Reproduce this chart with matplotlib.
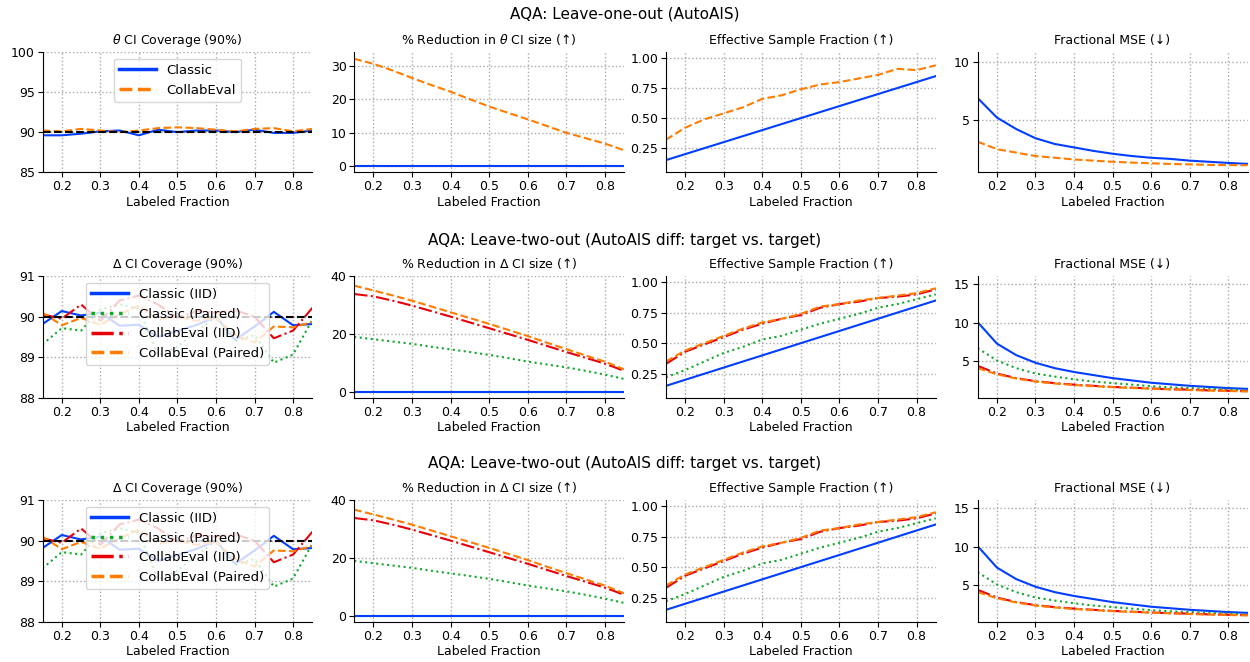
import numpy as np
import matplotlib.pyplot as plt

# ---------------------------------------------------------------------------
# Data: labeled fraction sweep
# ---------------------------------------------------------------------------
frac = [0.15, 0.20, 0.25, 0.30, 0.35, 0.40, 0.45, 0.50,
        0.55, 0.60, 0.65, 0.70, 0.75, 0.80, 0.85]

# Leave-one-out (AutoAIS)
loo_cov_classic = [89.6, 89.6, 89.8, 90.1, 90.2, 89.6, 90.3, 90.0,
                   90.2, 90.2, 90.0, 90.3, 89.9, 89.9, 90.2]
loo_cov_collab = [90.2, 90.1, 90.4, 90.2, 90.0, 90.2, 90.5, 90.6,
                  90.5, 90.3, 90.1, 90.4, 90.5, 90.1, 90.4]
loo_red_classic = [0.0] * 15
loo_red_collab = [32.0, 30.5, 28.5, 26.3, 24.2, 22.2, 20.0, 17.8,
                  15.9, 14.0, 12.0, 10.0, 8.4, 6.8, 4.8]
loo_esf_classic = [0.15, 0.20, 0.25, 0.30, 0.35, 0.40, 0.45, 0.50,
                   0.55, 0.60, 0.65, 0.70, 0.75, 0.80, 0.85]
loo_esf_collab = [0.32, 0.42, 0.49, 0.54, 0.59, 0.66, 0.69, 0.74,
                  0.78, 0.80, 0.83, 0.86, 0.91, 0.90, 0.94]
loo_mse_classic = [6.9, 5.2, 4.2, 3.4, 2.9, 2.6, 2.3, 2.05,
                   1.85, 1.7, 1.6, 1.45, 1.35, 1.25, 1.17]
loo_mse_collab = [3.1, 2.45, 2.15, 1.85, 1.7, 1.55, 1.45, 1.35,
                  1.28, 1.22, 1.16, 1.12, 1.08, 1.06, 1.05]

# Leave-two-out (AutoAIS diff)
lto_cov_classic_iid = [89.82, 90.14, 90.03, 90.10, 89.78, 89.80, 89.50, 89.65,
                       89.80, 90.00, 89.43, 89.76, 90.12, 89.79, 89.82]
lto_cov_classic_pair = [89.32, 89.72, 89.66, 90.18, 90.30, 90.20, 89.05, 89.26,
                        89.65, 90.00, 89.40, 89.55, 88.87, 89.07, 89.93]
lto_cov_collab_iid = [90.06, 89.95, 90.30, 89.90, 90.40, 90.52, 90.30, 89.97,
                      90.14, 90.10, 90.16, 90.00, 89.47, 89.66, 90.22]
lto_cov_collab_pair = [90.10, 89.79, 89.97, 89.80, 90.06, 90.27, 89.93, 90.00,
                       89.90, 89.97, 89.55, 89.37, 89.76, 89.74, 89.87]

lto_red_classic_iid = [0.0] * 15
lto_red_classic_pair = [19.0, 18.2, 17.4, 16.6, 15.6, 14.7, 13.8, 12.8,
                        11.7, 10.5, 9.5, 8.5, 7.3, 6.0, 4.5]
lto_red_collab_iid = [33.8, 33.0, 31.5, 29.8, 27.9, 26.0, 24.0, 22.0,
                      20.0, 18.0, 15.9, 13.8, 11.8, 9.8, 7.3]
lto_red_collab_pair = [36.7, 35.0, 33.3, 31.5, 29.5, 27.5, 25.5, 23.5,
                       21.4, 19.3, 17.0, 14.8, 12.6, 10.5, 7.8]

lto_esf_classic_iid = [0.15, 0.20, 0.25, 0.30, 0.35, 0.40, 0.45, 0.50,
                       0.55, 0.60, 0.65, 0.70, 0.75, 0.80, 0.85]
lto_esf_classic_pair = [0.22, 0.28, 0.35, 0.42, 0.47, 0.53, 0.56, 0.61,
                        0.66, 0.70, 0.74, 0.79, 0.82, 0.86, 0.90]
lto_esf_collab_iid = [0.33, 0.43, 0.49, 0.55, 0.61, 0.66, 0.70, 0.73,
                      0.79, 0.82, 0.84, 0.87, 0.88, 0.90, 0.94]
lto_esf_collab_pair = [0.35, 0.44, 0.50, 0.56, 0.62, 0.67, 0.70, 0.74,
                       0.80, 0.82, 0.85, 0.87, 0.89, 0.91, 0.95]

lto_mse_classic_iid = [10.1, 7.3, 5.8, 4.8, 4.1, 3.6, 3.2, 2.8,
                       2.5, 2.2, 2.0, 1.8, 1.65, 1.5, 1.4]
lto_mse_classic_pair = [6.7, 5.1, 4.1, 3.4, 3.0, 2.65, 2.35, 2.15,
                        1.95, 1.75, 1.6, 1.5, 1.4, 1.3, 1.2]
lto_mse_collab_iid = [4.4, 3.4, 2.8, 2.4, 2.15, 1.95, 1.8, 1.65,
                      1.55, 1.45, 1.35, 1.3, 1.2, 1.15, 1.1]
lto_mse_collab_pair = [4.1, 3.3, 2.75, 2.35, 2.1, 1.9, 1.75, 1.62,
                       1.52, 1.42, 1.33, 1.25, 1.18, 1.12, 1.07]

BLUE, ORANGE, GREEN, RED = '#023eff', '#ff7c00', '#12a82a', '#e8000b'

plt.rcParams['font.family'] = ['DejaVu Sans']
plt.rcParams['font.size'] = 9
plt.rcParams['axes.titlesize'] = 9
plt.rcParams['axes.labelsize'] = 9
plt.rcParams['xtick.labelsize'] = 9
plt.rcParams['ytick.labelsize'] = 9

fig = plt.figure(figsize=(12.5, 6.62), dpi=100)
subfigs = fig.subfigures(3, 1)


def style(ax, ylim, yticks):
    ax.set_xlim(0.15, 0.85)
    ax.set_xticks([0.2, 0.3, 0.4, 0.5, 0.6, 0.7, 0.8])
    ax.set_ylim(*ylim)
    ax.set_yticks(yticks)
    ax.grid(True, linestyle=':', color='#aaaaaa', linewidth=1.0)
    ax.set_axisbelow(True)
    ax.spines['top'].set_visible(False)
    ax.spines['right'].set_visible(False)
    ax.set_xlabel('Labeled Fraction', labelpad=2)
    ax.tick_params(pad=2)


def legend(ax):
    leg = ax.legend(loc='upper center', fontsize=9.5, handlelength=2.8)
    for ln in leg.get_lines():
        ln.set_linewidth(2.5)


# --- Row 1: leave-one-out ---------------------------------------------------
sf = subfigs[0]
axes = sf.subplots(1, 4)
sf.subplots_adjust(left=0.034, right=0.998, top=0.764, bottom=0.22, wspace=0.155)
sf.suptitle('AQA: Leave-one-out (AutoAIS)', fontsize=11, y=0.97)

ax = axes[0]
ax.plot(frac, loo_cov_classic, color=BLUE, lw=1.5, label='Classic')
ax.plot(frac, loo_cov_collab, color=ORANGE, lw=1.5, ls='--', label='CollabEval')
ax.axhline(90, color='k', ls='--', lw=1.5)
style(ax, (85, 100), [85, 90, 95, 100])
ax.set_title(r'$\theta$ CI Coverage (90%)')
legend(ax)

ax = axes[1]
ax.plot(frac, loo_red_classic, color=BLUE, lw=1.5)
ax.plot(frac, loo_red_collab, color=ORANGE, lw=1.5, ls='--')
style(ax, (-1.7, 34), [0, 10, 20, 30])
ax.set_title(r'% Reduction in $\theta$ CI size (↑)')

ax = axes[2]
ax.plot(frac, loo_esf_classic, color=BLUE, lw=1.5)
ax.plot(frac, loo_esf_collab, color=ORANGE, lw=1.5, ls='--')
style(ax, (0.05, 1.05), [0.25, 0.5, 0.75, 1.0])
ax.set_title('Effective Sample Fraction (↑)')

ax = axes[3]
ax.plot(frac, loo_mse_classic, color=BLUE, lw=1.5)
ax.plot(frac, loo_mse_collab, color=ORANGE, lw=1.5, ls='--')
style(ax, (0.45, 10.9), [5, 10])
ax.set_title('Fractional MSE (↓)')

# --- Rows 2 & 3: leave-two-out ----------------------------------------------
row_layout = [(0.749, 0.196, 0.945), (0.734, 0.181, 0.935)]
for sf, (top, bottom, title_y) in zip(subfigs[1:], row_layout):
    axes = sf.subplots(1, 4)
    sf.subplots_adjust(left=0.034, right=0.998, top=top, bottom=bottom, wspace=0.155)
    sf.suptitle('AQA: Leave-two-out (AutoAIS diff: target vs. target)',
                fontsize=11, y=title_y)

    ax = axes[0]
    ax.plot(frac, lto_cov_classic_iid, color=BLUE, lw=1.5, label='Classic (IID)')
    ax.plot(frac, lto_cov_classic_pair, color=GREEN, lw=1.5, ls=':', label='Classic (Paired)')
    ax.plot(frac, lto_cov_collab_iid, color=RED, lw=1.5, ls='-.', label='CollabEval (IID)')
    ax.plot(frac, lto_cov_collab_pair, color=ORANGE, lw=1.5, ls='--', label='CollabEval (Paired)')
    ax.axhline(90, color='k', ls='--', lw=1.5)
    style(ax, (88, 91), [88, 89, 90, 91])
    ax.set_title(r'$\Delta$ CI Coverage (90%)')
    legend(ax)

    ax = axes[1]
    ax.plot(frac, lto_red_classic_iid, color=BLUE, lw=1.5)
    ax.plot(frac, lto_red_classic_pair, color=GREEN, lw=1.5, ls=':')
    ax.plot(frac, lto_red_collab_iid, color=RED, lw=1.5, ls='-.')
    ax.plot(frac, lto_red_collab_pair, color=ORANGE, lw=1.5, ls='--')
    style(ax, (-2.1, 40), [0, 20, 40])
    ax.set_title(r'% Reduction in $\Delta$ CI size (↑)')

    ax = axes[2]
    ax.plot(frac, lto_esf_classic_iid, color=BLUE, lw=1.5)
    ax.plot(frac, lto_esf_classic_pair, color=GREEN, lw=1.5, ls=':')
    ax.plot(frac, lto_esf_collab_iid, color=RED, lw=1.5, ls='-.')
    ax.plot(frac, lto_esf_collab_pair, color=ORANGE, lw=1.5, ls='--')
    style(ax, (0.05, 1.05), [0.25, 0.5, 0.75, 1.0])
    ax.set_title('Effective Sample Fraction (↑)')

    ax = axes[3]
    ax.plot(frac, lto_mse_classic_iid, color=BLUE, lw=1.5)
    ax.plot(frac, lto_mse_classic_pair, color=GREEN, lw=1.5, ls=':')
    ax.plot(frac, lto_mse_collab_iid, color=RED, lw=1.5, ls='-.')
    ax.plot(frac, lto_mse_collab_pair, color=ORANGE, lw=1.5, ls='--')
    style(ax, (0.2, 16.1), [5, 10, 15])
    ax.set_title('Fractional MSE (↓)')

fig.savefig('out.png', dpi=100)
